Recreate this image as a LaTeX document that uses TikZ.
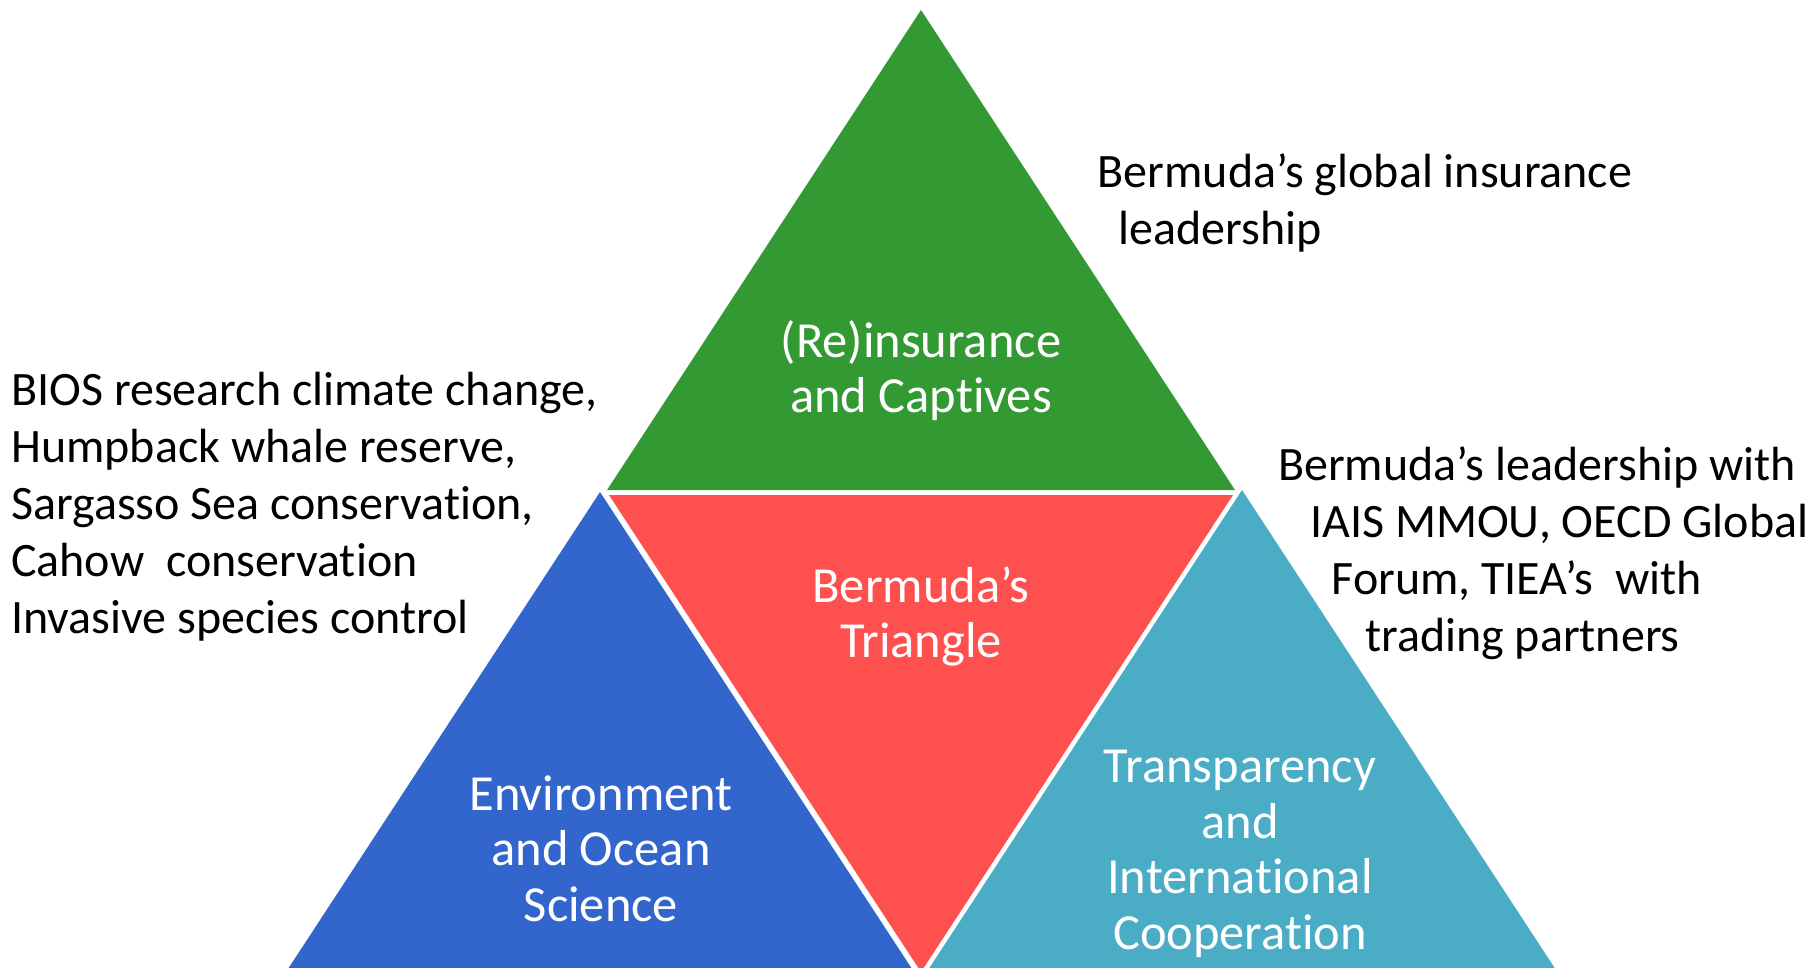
\documentclass[tikz,border=0pt]{standalone}
\usepackage{fontspec}
\setmainfont[Ligatures={NoCommon}]{Carlito}
\definecolor{cgreen}{HTML}{339933}
\definecolor{cred}{HTML}{FF5050}
\definecolor{cblue}{HTML}{3366CC}
\definecolor{cteal}{HTML}{4BACC6}
\begin{document}
\begin{tikzpicture}[x=1pt,y=-1pt,
  txt/.style={inner sep=0pt, font=\fontsize{48}{57.6}\selectfont, text=black, anchor=base west},
  lbl/.style={inner sep=0pt, font=\fontsize{50.5}{55}\selectfont, text=white, anchor=base}]
\useasboundingbox (0,0) rectangle (1812,968);
\clip (0,0) rectangle (1812,968);
% triangles
\fill[cgreen] (921,10) -- (1235,490) -- (607,490) -- cycle;
\fill[cred] (609,495) -- (1233,495) -- (921,972) -- cycle;
\fill[cblue] (600,492) -- (914,972) -- (286,972) -- cycle;
\fill[cteal] (1242,490) -- (1556,970) -- (928,970) -- cycle;
% triangle labels
\node[lbl] (g1) at (921,357) {(Re)insurance};
\node[lbl] (g2) at (921,412) {and Captives};
\node[lbl] (r1) at (921,602) {Bermuda’s};
\node[lbl] (r2) at (921,657) {Triangle};
\node[lbl] (b1) at (601,810) {Environment};
\node[lbl] (b2) at (601,865) {and Ocean};
\node[lbl] (b3) at (601,921) {Science};
\node[lbl] (t1) at (1240,782) {Transparency};
\node[lbl] (t2) at (1240,838) {and};
\node[lbl] (t3) at (1240,893) {International};
\node[lbl] (t4) at (1240,949) {Cooperation};
% side texts
\node[txt] (tr1) at (1097.5,188) {Bermuda’s global insurance};
\node[txt] (tr2) at (1118.5,245) {leadership};
\node[txt] (l1) at (11,405) {BIOS research climate change,};
\node[txt] (l2) at (11,462) {Humpback whale reserve,};
\node[txt] (l3) at (11,519) {Sargasso Sea conservation,};
\node[txt] (l4) at (11,576) {Cahow\ \ conservation};
\node[txt] (l5) at (11,633) {Invasive species control};
\node[txt] (m1) at (1278,480) {Bermuda’s leadership with};
\node[txt] (m2) at (1310,537) {IAIS MMOU, OECD Global};
\node[txt] (m3) at (1331.5,594) {Forum, TIEA’s\ \ with};
\node[txt] (m4) at (1365,651) {trading partners};
\end{tikzpicture}
\end{document}
